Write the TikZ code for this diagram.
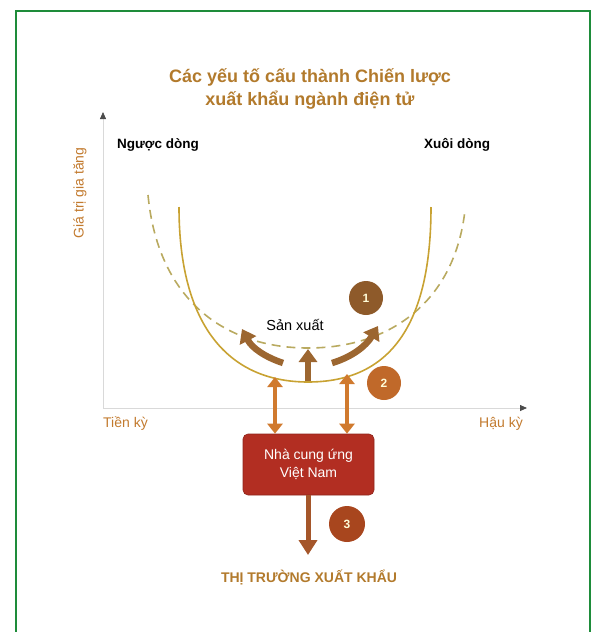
\documentclass[tikz,border=0pt]{standalone}
\usepackage{fontspec}
\setmainfont{Liberation Sans}
\usetikzlibrary{arrows.meta}
\definecolor{titlec}{HTML}{B27A2C}
\definecolor{axlab}{HTML}{C27A2E}
\definecolor{frameg}{HTML}{1E8C3A}
\definecolor{solidc}{HTML}{C8A232}
\definecolor{dashc}{HTML}{B9AA60}
\definecolor{brownar}{HTML}{9C6630}
\definecolor{cone}{HTML}{8E5A2A}
\definecolor{ctwo}{HTML}{C0692A}
\definecolor{cthree}{HTML}{A8461E}
\definecolor{dblar}{HTML}{D07A2E}
\definecolor{boxc}{HTML}{B22E22}
\definecolor{downar}{HTML}{A5562A}
\tikzset{
  lbl/.style={inner sep=0pt, font=\fontsize{13.5}{15}\selectfont},
  axis/.style={draw=black!15, line width=0.8pt, -{Triangle[length=7pt,width=6pt,color=black!70]}},
  bigar/.style={draw=brownar, line width=6.5pt, -{Triangle[length=13pt,width=18pt]}},
  dblarrow/.style={draw=dblar, line width=4.5pt, {Triangle[length=10pt,width=15pt]}-{Triangle[length=10pt,width=15pt]}},
  numc/.style={circle, minimum size=34pt, inner sep=0pt, text=white!85!yellow, font=\bfseries\fontsize{12}{12}\selectfont},
}
\begin{document}
\begin{tikzpicture}[x=1pt,y=-1pt]
\useasboundingbox (0,0) rectangle (595,632);
\draw[frameg, line width=2.5pt] (16,660) -- (16,11) -- (590,11) -- (590,660);
% title
\node[lbl, text=titlec, font=\bfseries\fontsize{18}{22.5}\selectfont, align=center] (title) at (310,89) {Các yếu tố cấu thành Chiến lược\\xuất khẩu ngành điện tử};
% axes
\coordinate (o) at (103,408);
\coordinate (ytop) at (103,112);
\coordinate (xend) at (527,408);
\draw[axis] (o) -- (ytop);
\draw[axis] (o) -- (xend);
\node[lbl, text=axlab, font=\fontsize{14}{15}\selectfont, rotate=90] (ylab) at (80,193) {Giá trị gia tăng};
\node[lbl, text=axlab, font=\fontsize{14}{15}\selectfont, anchor=west] (tien) at (103,424) {Tiền kỳ};
\node[lbl, text=axlab, font=\fontsize{14}{15}\selectfont, anchor=east] (hau) at (523,424) {Hậu kỳ};
\node[lbl, font=\bfseries\fontsize{13.5}{15}\selectfont, anchor=west] (nguoc) at (117,145) {Ngược dòng};
\node[lbl, font=\bfseries\fontsize{13.5}{15}\selectfont, anchor=west] (xuoi) at (424,145) {Xuôi dòng};
% curves
\draw[dashc, line width=1.6pt, dash pattern=on 9pt off 6pt] (148,195) .. controls (158,300) and (225,348) .. (308,348) .. controls (392,348) and (455,300) .. (465,210);
\draw[solidc, line width=1.6pt] (179,207) .. controls (179,325) and (228,382) .. (308,382) .. controls (390,382) and (431,325) .. (431,207);
% production label
\node[lbl, font=\fontsize{14.5}{15}\selectfont] (sx) at (295,325) {Sản xuất};
% brown arrows
\coordinate (la0) at (283,363);
\coordinate (la1) at (242,329);
\coordinate (ma0) at (308,381);
\coordinate (ma1) at (308,349);
\coordinate (ra0) at (332,363);
\coordinate (ra1) at (378,326);
\draw[bigar] (la0) .. controls (265,357) and (252,348) .. (la1);
\draw[bigar] (ma0) -- (ma1);
\draw[bigar] (ra0) .. controls (352,357) and (366,346) .. (ra1);
% number circles
\node[numc, fill=cone] (c1) at (366,298) {1};
\node[numc, fill=ctwo] (c2) at (384,383) {2};
% supplier box
\node[draw=boxc!80!black, line width=0.6pt, fill=boxc, rounded corners=5pt, minimum width=131pt, minimum height=61pt, text=white, align=center, font=\fontsize{14}{18}\selectfont] (box) at (308.5,464.5) {Nhà cung ứng\\Việt Nam};
\coordinate (dl) at (275,377);
\coordinate (dr) at (347,374);
\draw[dblarrow] (dl) -- (dl |- box.north);
\draw[dblarrow] (dr) -- (dr |- box.north);
% down arrow
\coordinate (mk) at (308,555);
\draw[draw=downar, line width=5pt, -{Triangle[length=15pt,width=18pt]}] (box.south -| mk) -- (mk);
\node[numc, fill=cthree, minimum size=36pt] (c3) at (347,524) {3};
\node[lbl, text=titlec, font=\bfseries\fontsize{14}{16}\selectfont] (market) at (309,577) {THỊ TRƯỜNG XUẤT KHẨU};
\end{tikzpicture}
\end{document}
